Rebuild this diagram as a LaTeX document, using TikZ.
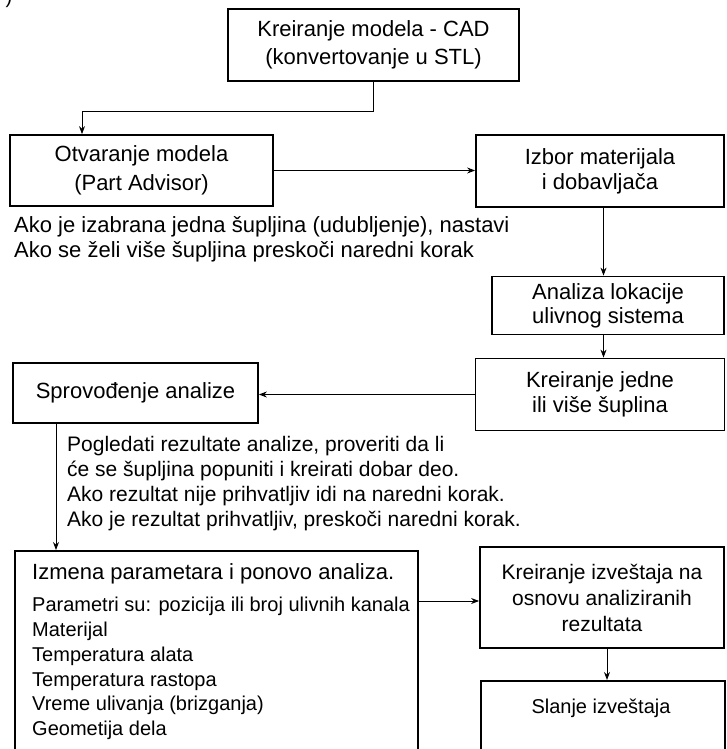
\documentclass[tikz,border=0pt]{standalone}
\usepackage{fontspec}
\setmainfont{Liberation Sans}
\usetikzlibrary{arrows.meta}

\tikzset{
  box/.style={draw, line width=1.8pt, align=center, inner sep=0pt, font=\fontsize{22}{25}\selectfont},
  note/.style={anchor=north west, align=left, inner sep=0pt, font=\fontsize{21}{25}\selectfont},
  link/.style={line width=0.9pt, -{Stealth[length=8pt,width=6pt]}},
}

\begin{document}
\begin{tikzpicture}[x=1pt,y=-1pt]
    \useasboundingbox (0,0) rectangle (726,749);

    %%%%% BOXES %%%%%
    \node[anchor=base, font=\fontsize{20}{24}\selectfont] (frag) at (9,4) {)};

    \node[box, minimum width=291, minimum height=72, font=\fontsize{22}{28}\selectfont] (cad) at (373.5,45) {Kreiranje modela - CAD\\(konvertovanje u STL)};
    \node[box, minimum width=263, minimum height=71, font=\fontsize{22}{29}\selectfont] (otv) at (141.5,170.5) {Otvaranje modela\\(Part Advisor)};
    \node[box, minimum width=248, minimum height=72] (izb) at (600,171) {Izbor materijala\\i dobavljača};
    \node[box, minimum width=232, minimum height=58, font=\fontsize{22}{24}\selectfont] (anl) at (608,305.5) {Analiza lokacije\\ulivnog sistema};
    \node[box, minimum width=249, minimum height=72] (kje) at (600,394.5) {Kreiranje jedne\\ili više šuplina};
    \node[box, minimum width=245, minimum height=60] (spr) at (135.5,393) {Sprovođenje analize};

    \node[box, anchor=north west, minimum width=403, minimum height=215] (izm) at (14,550) {};
    \node[note, font=\fontsize{22}{25}\selectfont] (izmhead) at (32,563) {Izmena parametara i ponovo analiza.};
    \node[note, font=\fontsize{20}{24.8}\selectfont] (izmlist) at (32,597) {Parametri su: pozicija ili broj ulivnih kanala\\
        Materijal\\
        Temperatura alata\\
        Temperatura rastopa\\
        Vreme ulivanja (brizganja)\\
        Geometija dela};

    \node[box, minimum width=244, minimum height=101, font=\fontsize{21}{26}\selectfont] (kiz) at (602,597.5) {Kreiranje izveštaja na\\osnovu analiziranih\\rezultata};
    \node[box, anchor=north west, minimum width=244, minimum height=90] (sla) at (480,680) {};
    \node[font=\fontsize{20}{24}\selectfont] (slatxt) at (601,708) {Slanje izveštaja};

    %%%%% NOTES %%%%%
    \node[note, font=\fontsize{22}{25}\selectfont] (note1) at (14,216) {Ako je izabrana jedna šupljina (udubljenje), nastavi\\
        Ako se želi više šupljina preskoči naredni korak};
    \node[note] (note2) at (67,436) {Pogledati rezultate analize, proveriti da li\\
        će se šupljina popuniti i kreirati dobar deo.\\
        Ako rezultat nije prihvatljiv idi na naredni korak.\\
        Ako je rezultat prihvatljiv, preskoči naredni korak.};

    %%%%% CONNECTORS %%%%%
    \coordinate (bend) at (82,111);
    \coordinate (drop) at (56,423);
    \draw[link] (cad.south) |- (bend) -- (bend |- otv.north);
    \draw[link] (otv.east) -- (otv.east -| izb.west);
    \draw[link] ([xshift=3.5pt]izb.south) -- ([xshift=3.5pt]izb.south |- anl.north);
    \draw[link] ([xshift=3.5pt]izb.south |- anl.south) -- ([xshift=3.5pt]izb.south |- kje.north);
    \draw[link] (kje.west) -- (kje.west -| spr.east);
    \draw[link] (drop) -- (drop |- izm.north);
    \draw[link] ([yshift=-3.5pt]izm.east |- kiz.west) -- ([yshift=-3.5pt]kiz.west);
    \draw[link] ([xshift=5pt]kiz.south) -- ([xshift=5pt]kiz.south |- sla.north);
\end{tikzpicture}
\end{document}
